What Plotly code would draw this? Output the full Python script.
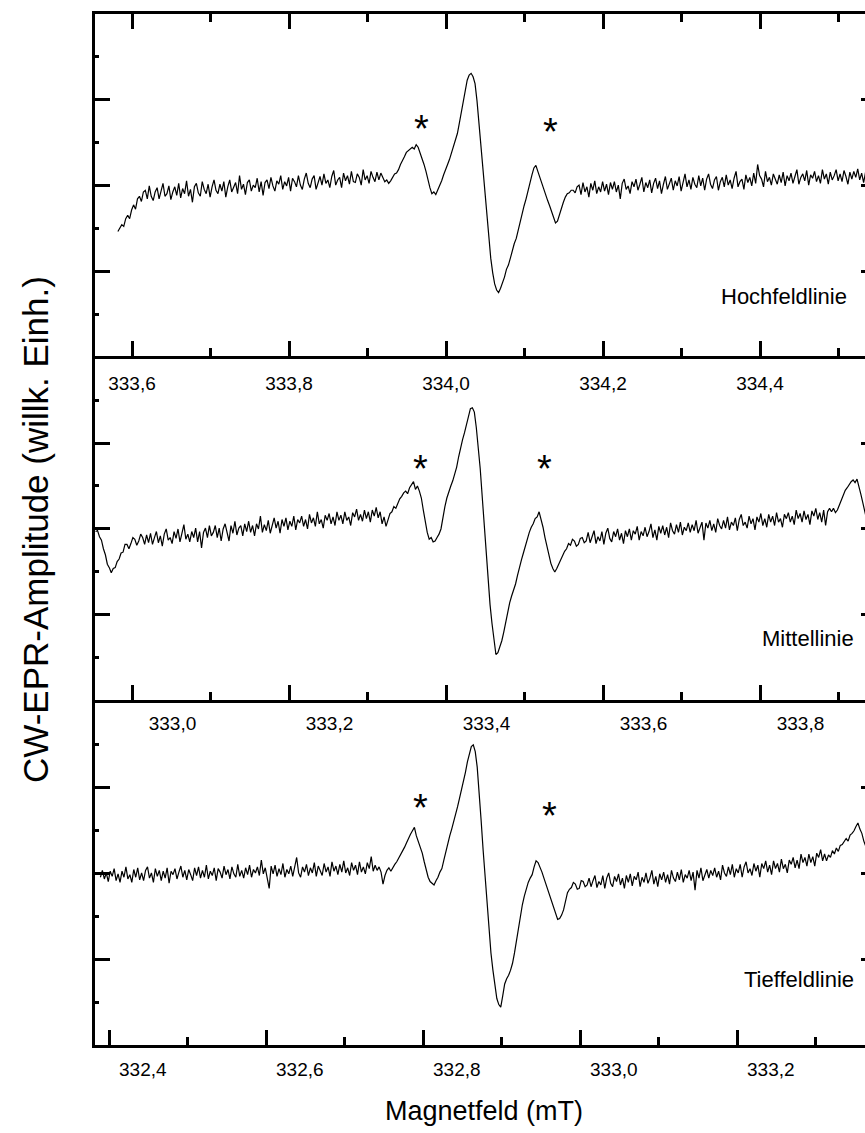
import plotly.graph_objects as go

# ---- CW-EPR spectra of the three hyperfine lines (arbitrary units) ----
FIELD_STEP = 0.0025  # mT between samples

hoch_start = 333.582
hoch_signal = [
    -54, -49, -46, -48, -39, -35, -39, -29, -23, -28, -16, -13, -19, -8,
    -6, -16, -1, -13, -18, -8, -3, -16, -6, 2, -13, -10, -1, -17, -8, -2,
    -12, 2, -15, -4, -10, 5, -13, -5, -20, -2, 2, -9, -13, 4, -5, -10,
    1, -14, -2, 6, -6, -10, 1, -7, 4, -14, -2, 6, -8, -3, 3, -10, 11, -5,
    1, -11, 3, 6, -7, 0, -3, 8, -8, 4, -12, 3, 6, -4, 9, -1, -7, 5, 1, 11,
    -5, 4, -1, 9, -7, 8, 4, -2, 11, 0, -5, 7, 14, 2, -3, 7, 11, -5, 4, 10,
    0, 13, 2, 6, -3, 10, 17, 0, 6, 9, -3, 14, 5, 11, 1, 16, 4, 3, 13, 9,
    0, 18, 6, 11, 2, 16, 9, 4, 15, 6, 14,
    8, 4, 6, 2, 5, 9, 13, 14, 18, 24, 28, 33, 38, 40, 43, 44, 42, 47,
    44, 38, 32, 24, 16, 6, -3, -10, -8, -11, -6, -2, 5, 12, 17, 24, 30,
    38, 44, 52, 60, 72, 84, 96, 110, 122, 128, 130, 126, 118, 98, 72, 46,
    20, -8, -38, -62, -85, -102, -115, -122, -125, -120, -114, -107, -98,
    -93, -85, -76, -68, -62, -52, -44, -34, -24, -16, -6, 4, 12, 20, 23,
    16, 9, 2, -6, -12, -18, -24, -30, -38, -44, -42, -34, -26, -20, -14,
    -10, -9, -6, -6, -9, -2,
    0, -11, 3, -8, -2, -14, 2, -6, 5, -10, -2, -8, 4, -7, 1, -11, 3, -5,
    4, -8, 0, -16, 2, 7, -5, -1, -10, 4, -2, 7, -6, 1, 9, -8, 3, -3, 6,
    -9, 2, 8, -4, 5, -10, 1, 10, -5, 3, 8, -6, 5, -1, 10, -7, 4, 13, -2,
    6, -5, 9, 1, -3, 11, -1, 8, -6, 7, 13, 1, -4, 6, 10, -6, 4, 9, -2, 12,
    0, 6, -4, 8, 16, -2, 4, 7, -5, 12, 3, 9, -1, 14, 2, 24, 11, 7, -2, 16,
    4, 9, 0, 13, 6, 1, 12, 3, 15, -1, 11, 5, 14, 2, 10, 18, 1, 9, 13, 5,
    17, 0, 12, 8, 16, 4, 11, 2, 18, 7, 13, 1, 15, 6, 11, 18, 5, 13, 4, 17,
    10, 1, 15, 7, 16, 9, 19, 6, 14, 3, 15, 11,
]

mittel_start = 332.902
mittel_signal = [
    -3, -2, -9, -13, -23, -30, -41, -45, -51, -46, -45, -38, -35, -28,
    -27, -18, -18, -23, -17, -10, -12, -19, -14, -6, -10,
    -18, -7, -16, -5, -18, -10, -3, -16, -8, -20, -6, 0, -13, -10, -17,
    -3, -11, 0, -15, -5, 5, -12, -6, -15, -3, -10, 1, -15, -3, -22, -4, 1,
    -10, 4, -8, -4, 4, -10, 1, -14, 0, 6, -4, -14, 4, -5, 9, -7, 1, 4, -8,
    6, -3, 9, -4, 4, -8, 6, 0, 15, -4, 5, -2, 10, -5, 5, 13, 1, 9, -5, 11,
    3, 13, -1, 9, 3, 15, -1, 11, 7, 15, 3, 11, 0, 17, 7, 13, 3, 20, 6, 11,
    1, 16, 10, 18, 6, 14, 4, 20, 10, 16, 6, 20, 10, 14, 4, 19, 14, 23, 10,
    17, 9, 22, 12, 20, 8, 22, 15, 25, 13, 20, 6, 14, 3, 11, 18,
    20, 26, 24, 30, 35, 38, 42, 44, 41, 48, 52, 55, 46, 50, 44, 36, 22, 8,
    -4, -12, -10, -15, -14, -10, -6, 0, 14, 26, 36, 44, 50, 56, 63, 72, 84,
    95, 104, 112, 122, 132, 140, 141, 136, 118, 96, 70, 38, 4, -28, -60,
    -88, -110, -132, -146, -144, -138, -130, -120, -108, -97, -86, -78,
    -72, -64, -54, -44, -36, -28, -20, -10, -4, 2, 6, 12, 14, 20, 12, 2,
    -10, -21, -32, -40, -46, -50, -46, -41, -34, -30, -26, -23, -17, -19,
    -12, -14, -20, -18, -11, -10, -16, -14,
    -4, -16, -9, -2, -17, -9, -14, -3, -18, -5, 1, -11, -15, -3, -9, 0,
    -13, -5, -17, -2, -9, 0, -13, -2, -6, 3, -13, -3, -8, 2, -9, -3, 6,
    -10, -1, -13, 3, -5, 4, -7, 2, -10, 7, -2, -6, 5, -4, 8, -7, 2, -2, 7,
    -4, 5, -2, 10, -5, 3, 8, -13, 7, 1, 10, -2, 6, -4, 12, 4, 0, 10, 1,
    14, -1, 8, 4, 13, -2, 11, 17, 4, 8, 1, 15, 6, 12, -1, 14, 8, 18, 4,
    12, 2, 17, 8, 15, 4, 19, 8, 12, 2, 17, 12, 19, 8, 15, 5, 22, 12, 18,
    8, 21, 11, 17, 5, 21, 15, 24, 11, 19, 8, 22, 4, 20, 24,
    20, 24, 19, 22, 28, 32, 40, 45, 48, 52, 55, 57, 54, 58, 50, 40, 30,
    18, 10, 5,
]

tief_start = 332.346
tief_signal = [
    -4, 4, -6, 1, -9, 3, -3, 6, -8, 0, -10, 3, -4, 8, -6, -1, -10, 5, -4,
    7, -7, 1, -8, 4, 8, -5, 1, -10, 6, -3, 4, -8, 3, -5, 7, -11, 3, -1, 6,
    -6, 2, 9, -4, 4, -7, 5, -1, -8, 7, -2, 8, -5, 4, -4, 10, -6, 3, -2, 7,
    -8, 6, 2, -5, 9, -1, 5, -6, 8, 0, -4, 11, -3, 4, -5, 7, -1, 10, -4, 5,
    1, 8, -2, 16, 0, 7, -6, -17, 9, 0, 10, -3, 6, -1, 12, -4, 5, 0, 9, -3,
    8, 19, 1, -4, 8, 2, 11, -2, 7, 1, 13, -3, 9, 4, -2, 12, 2, 8, -3, 14,
    3, 9, -1, 11, 2, 15, 1, 7, -2, 13, 4, 10, -1, 14, 2, 8, 0, 13, 6, 20,
    3, 10, 4,
    8, 2, -12, -2, 4, 7, 3, 8, 11, 14, 18, 22, 26, 31, 36, 42, 46, 50, 54,
    44, 38, 32, 24, 14, 4, -4, -9, -11, -13, -8, -4, 2, 6, 16, 26, 36, 44,
    52, 60, 68, 78, 88, 97, 108, 118, 130, 140, 148, 150, 142, 124, 96, 62,
    28, -4, -36, -66, -92, -112, -130, -145, -152, -155, -142, -128, -122,
    -118, -112, -104, -92, -78, -62, -48, -36, -26, -17, -10, -5, -1, 8, 15,
    13, 8, 2, -5, -12, -20, -26, -33, -40, -48, -53, -52, -48, -42, -30,
    -22, -18, -16, -10, -12, -18, -17, -8, -9, -15, -13,
    -5, -15, -8, -2, -16, -9, -13, -2, -17, -5, 1, -11, -15, -3, -9, 0,
    -13, -5, -17, -2, -10, 0, -14, -3, -7, 2, -15, -4, -10, 1, -11, -5, 4,
    -12, -3, -15, 0, -7, 2, -10, -1, -12, 4, -5, -9, 2, -7, 5, -10, -1, -5,
    4, -8, 2, -19, 4, -5, 7, -8, 0, 5, -5, 4, -2, 7, -4, 3, -7, 10, 1, -3,
    8, -1, 11, -4, 6, 1, 11, -4, 8, 14, 1, 6, -2, 12, 3, 10, -4, 12, 6, 15,
    2, 10, -1, 15, 6, 12, 2, 17, 6, 11, 1, 16, 11, 19, 7, 16, 6, 23, 13,
    19, 9, 23, 13, 20, 9, 24, 19, 28, 15, 23, 15,
    22, 19, 27, 23, 30, 26, 33, 34, 37, 41, 38, 45, 47, 50, 55, 59, 52, 47,
    38, 31, 26, 22,
]

line_names = ["Hochfeldlinie", "Mittellinie", "Tieffeldlinie"]

# satellite lines marked with an asterisk: (field in mT, amplitude)
hoch_stars_field = [333.969, 334.1325]
hoch_stars_amp = [72, 69]
mittel_stars_field = [333.3153, 333.4745]
mittel_stars_amp = [77, 77]
tief_stars_field = [332.7536, 332.918]
tief_stars_amp = [83, 74]

# ---- layout constants ----
FONT = "Liberation Sans, Arial, Helvetica, sans-serif"
x_ranges = [[333.55287, 334.53376], [332.90127, 333.88216], [332.33911, 333.32000]]
label_tick0 = [333.6, 333.0, 332.4]
mark_tick0 = [333.6, 333.0 - 40.2 / 785, 332.4 - 33.5 / 785]
y_ranges = [[-199, 199], [-199, 201], [-199, 202]]
domains = [[0.6681, 1.0], [0.3346, 0.6681], [0.0, 0.3346]]
label_standoff = [8, 4, 5]


def sweep(start, values):
    return [start + i * FIELD_STEP for i in range(len(values))]


fig = go.Figure()

spectra = [(hoch_start, hoch_signal), (mittel_start, mittel_signal), (tief_start, tief_signal)]
for k, (start, sig) in enumerate(spectra):
    ax = "" if k == 0 else str(k + 1)
    fig.add_trace(go.Scatter(
        x=sweep(start, sig), y=sig, mode="lines",
        line=dict(color="black", width=1.2),
        xaxis="x" + ax, yaxis="y" + ax,
        showlegend=False, hoverinfo="skip",
    ))

# empty traces so that the extra tick-only axes are laid out
for xa, ya in [("x", "y4"), ("x2", "y5"), ("x3", "y6"), ("x4", "y2"), ("x5", "y3")]:
    fig.add_trace(go.Scatter(x=[], y=[], xaxis=xa, yaxis=ya, showlegend=False, hoverinfo="skip"))

common_line = dict(showline=True, linewidth=3, linecolor="black", showgrid=False, zeroline=False)
tick_style = dict(ticks="inside", ticklen=15, tickwidth=2.5, tickcolor="black")

layout = dict(
    width=865, height=1133,
    margin=dict(l=95, r=0, t=14, b=88),
    paper_bgcolor="white", plot_bgcolor="white",
    separators=",.",
    font=dict(family=FONT, color="black"),
    showlegend=False,
)

for k in range(3):
    sfx = "" if k == 0 else str(k + 1)
    yname = "y" + sfx
    xaxis = dict(
        domain=[0, 1], anchor=yname, range=x_ranges[k],
        tickmode="linear", tick0=label_tick0[k], dtick=0.2,
        tickformat=".1f", tickfont=dict(size=19, family=FONT),
        ticklabelstandoff=label_standoff[k],
        **common_line,
    )
    if k == 0:
        xaxis.update(mirror="ticks", **tick_style,
                     minor=dict(ticks="inside", ticklen=8, tickwidth=2.5, tickcolor="black",
                                dtick=0.1, tick0=label_tick0[k], showgrid=False))
    else:
        xaxis.update(ticks="")
    layout["xaxis" + sfx] = xaxis

    layout["yaxis" + sfx] = dict(
        domain=domains[k], anchor="x" + sfx, range=y_ranges[k],
        tickmode="linear", tick0=0, dtick=100, showticklabels=False,
        minor=dict(ticks="inside", ticklen=4, tickwidth=2.5, tickcolor="black",
                   dtick=50, tick0=0, showgrid=False),
        **tick_style, **common_line,
    )
    # short tick marks along the right edge
    layout["yaxis" + str(k + 4)] = dict(
        overlaying=yname, anchor="x" + sfx, side="right", range=y_ranges[k],
        tickmode="linear", tick0=0, dtick=100, showticklabels=False,
        ticks="inside", ticklen=4, tickwidth=2.5, tickcolor="black",
        showline=False, showgrid=False, zeroline=False,
    )

# tick marks of the lower two field axes
for k, name in [(1, "xaxis4"), (2, "xaxis5")]:
    sfx = str(k + 1)
    layout[name] = dict(
        overlaying="x" + sfx, anchor="y" + sfx, side="bottom", range=x_ranges[k],
        tickmode="linear", tick0=mark_tick0[k], dtick=0.2, showticklabels=False,
        minor=dict(ticks="inside", ticklen=8, tickwidth=2.5, tickcolor="black",
                   dtick=0.1, tick0=mark_tick0[k], showgrid=False),
        showline=False, showgrid=False, zeroline=False, **tick_style,
    )

fig.update_layout(**layout)

annotations = []
stars = [(hoch_stars_field, hoch_stars_amp), (mittel_stars_field, mittel_stars_amp),
         (tief_stars_field, tief_stars_amp)]
for k, (fx, amp) in enumerate(stars):
    sfx = "" if k == 0 else str(k + 1)
    for f, a in zip(fx, amp):
        annotations.append(dict(
            x=f, y=a, xref="x" + sfx, yref="y" + sfx, text="*", showarrow=False,
            xanchor="center", yanchor="middle", yshift=-6,
            font=dict(size=38, family=FONT, color="black"),
        ))

name_pos = [(334.5134, -129.5), (333.8707, -128), (333.3085, -123)]
for k, (name, (fx, amp)) in enumerate(zip(line_names, name_pos)):
    sfx = "" if k == 0 else str(k + 1)
    annotations.append(dict(
        x=fx, y=amp, xref="x" + sfx, yref="y" + sfx, text=name, showarrow=False,
        xanchor="right", yanchor="middle",
        font=dict(size=22, family=FONT, color="black"),
    ))

annotations.append(dict(
    x=0.5058, y=-0.064, xref="paper", yref="paper", text="Magnetfeld (mT)",
    showarrow=False, xanchor="center", yanchor="middle",
    font=dict(size=27, family=FONT, color="black"),
))
annotations.append(dict(
    x=-0.0779, y=0.4995, xref="paper", yref="paper", text="CW-EPR-Amplitude (willk. Einh.)",
    showarrow=False, xanchor="center", yanchor="middle", textangle=-90,
    font=dict(size=35, family=FONT, color="black"),
))
fig.update_layout(annotations=annotations)

fig.write_html("out.html")
